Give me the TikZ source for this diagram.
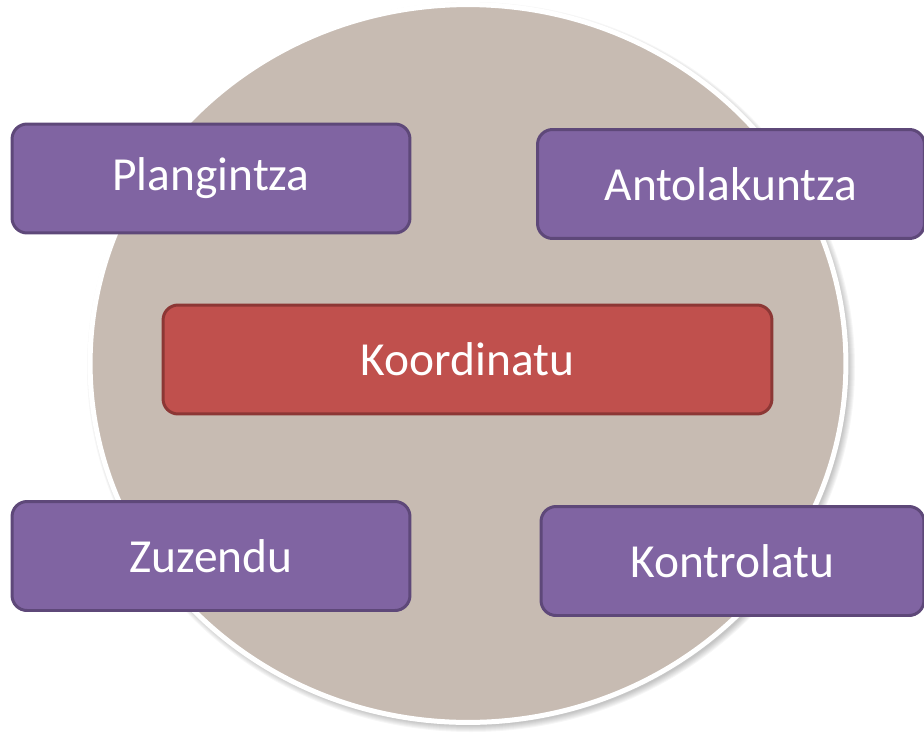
\documentclass[tikz,border=0pt]{standalone}
\usepackage{fontspec}
\setmainfont{Carlito}
\usepackage{tikz}
\usepackage{xcolor}

\definecolor{discfill}{HTML}{C7BBB2}
\definecolor{lilafill}{HTML}{8064A2}
\definecolor{lilaline}{HTML}{5E4879}
\definecolor{gorrifill}{HTML}{C0504D}
\definecolor{gorriline}{HTML}{8C3735}

\begin{document}
\begin{tikzpicture}[x=0.02cm, y=-0.02cm,
  kutxa/.style={rectangle, rounded corners=0.3cm, line width=0.06cm, text=white,
    font=\fontsize{27}{32}\selectfont, minimum height=2.18cm, inner sep=0pt},
  lila/.style={kutxa, fill=lilafill, draw=lilaline},
  gorri/.style={kutxa, fill=gorrifill, draw=gorriline}]
\useasboundingbox (0,0) rectangle (924,735);

% itzala eta diskoa
\foreach \i in {1,...,7}
  \fill[black, opacity=0.035] (471,367) ellipse ({(377+\i)*0.02cm} and {(358+\i)*0.02cm});
\draw[line width=0.1cm, draw=white, fill=discfill] (468,363.5) ellipse (7.56cm and 7.18cm);

\node[lila, minimum width=7.96cm] (plan) at (211,178.5) {Plangintza};
\node[lila, minimum width=7.74cm] (antol) at (731,184) {Antolakuntza};
\node[gorri, minimum width=12.18cm] (koord) at (467.5,359.5) {Koordinatu};
\node[lila, minimum width=7.96cm] (zuzen) at (211,556) {Zuzendu};
\node[lila, minimum width=7.66cm] (kontr) at (732.5,561) {Kontrolatu};
\end{tikzpicture}
\end{document}
